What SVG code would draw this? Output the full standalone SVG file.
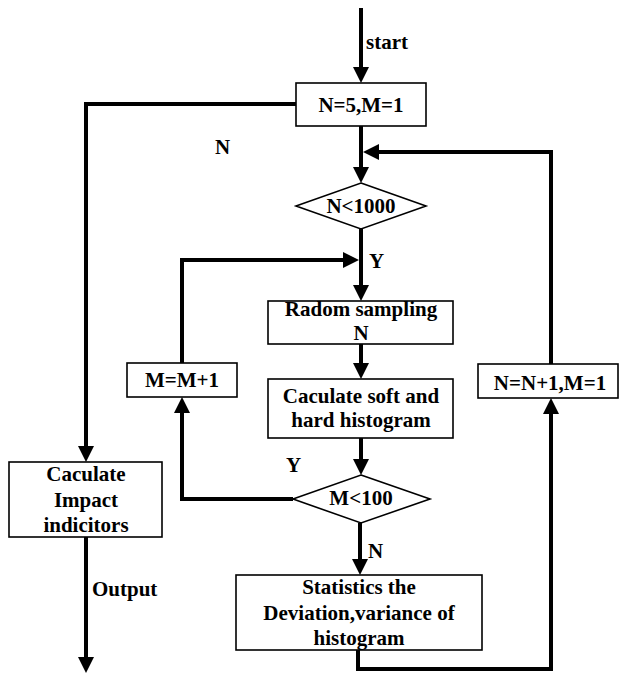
<svg xmlns="http://www.w3.org/2000/svg" width="619" height="676" viewBox="0 0 619 676">
<style>
.box{fill:#fff;stroke:#000;stroke-width:1.6}
.t{font-family:"Liberation Serif","Times New Roman",serif;font-weight:bold;font-size:21px;fill:#000;text-anchor:middle}
.l{font-family:"Liberation Serif","Times New Roman",serif;font-weight:bold;font-size:21px;fill:#000}
.c{fill:none;stroke:#000;stroke-width:4}
</style>
<defs>
<marker id="ah" markerUnits="userSpaceOnUse" markerWidth="16" markerHeight="16" refX="6" refY="8" orient="auto" viewBox="0 0 16 16">
<path d="M0,0 L16,8 L0,16 z" fill="#000"/>
</marker>
</defs>
<rect width="619" height="676" fill="#fff"/>
<g id="connectors">
<path class="c" d="M361,8 V73" marker-end="url(#ah)"/>
<path class="c" d="M361,126 V173" marker-end="url(#ah)"/>
<path class="c" d="M551,364 V152 H373" marker-end="url(#ah)"/>
<path class="c" d="M296,104 H86 V452" marker-end="url(#ah)"/>
<path class="c" d="M361,229 V291" marker-end="url(#ah)"/>
<path class="c" d="M182,363 V260 H349" marker-end="url(#ah)"/>
<path class="c" d="M361,344 V369" marker-end="url(#ah)"/>
<path class="c" d="M361,438 V465" marker-end="url(#ah)"/>
<path class="c" d="M293,499 H182 V407" marker-end="url(#ah)"/>
<path class="c" d="M360,523 V565" marker-end="url(#ah)"/>
<path class="c" d="M358,650 V669 H551 V408" marker-end="url(#ah)"/>
<path class="c" d="M86,537 V663" marker-end="url(#ah)"/>
</g>
<g id="labels">
<text class="l" x="366" y="49">start</text>
<text class="l" x="215" y="154">N</text>
<text class="l" x="369" y="268">Y</text>
<text class="l" x="286" y="472">Y</text>
<text class="l" x="368" y="558">N</text>
<text class="l" x="92" y="596">Output</text>
</g>
<g id="init"><rect class="box" x="296" y="83" width="130" height="43"/><text class="t" x="361" y="112">N=5,M=1</text></g>
<g id="cond1"><polygon class="box" points="361,183 426,206 361,229 296,206"/><text class="t" x="361" y="213">N&lt;1000</text></g>
<g id="sampling"><rect class="box" x="268" y="301" width="185" height="43"/><text class="t" x="361" y="316">Radom sampling</text><text class="t" x="361" y="340">N</text></g>
<g id="calc"><rect class="box" x="268" y="379" width="185" height="59"/><text class="t" x="361" y="403">Caculate soft and</text><text class="t" x="361" y="427">hard histogram</text></g>
<g id="incM"><rect class="box" x="127" y="363" width="110" height="34"/><text class="t" x="182" y="387">M=M+1</text></g>
<g id="incN"><rect class="box" x="478" y="364" width="140" height="34"/><text class="t" x="550" y="390">N=N+1,M=1</text></g>
<g id="cond2"><polygon class="box" points="361,475 430,499 361,523 293,499"/><text class="t" x="361" y="505">M&lt;100</text></g>
<g id="stats"><rect class="box" x="236" y="575" width="246" height="75"/><text class="t" x="359" y="594">Statistics the</text><text class="t" x="359" y="620">Deviation,variance of</text><text class="t" x="359" y="645">histogram</text></g>
<g id="impact"><rect class="box" x="9" y="462" width="153" height="75"/><text class="t" x="86" y="481">Caculate</text><text class="t" x="86" y="507">Impact</text><text class="t" x="86" y="532">indicitors</text></g>
</svg>
